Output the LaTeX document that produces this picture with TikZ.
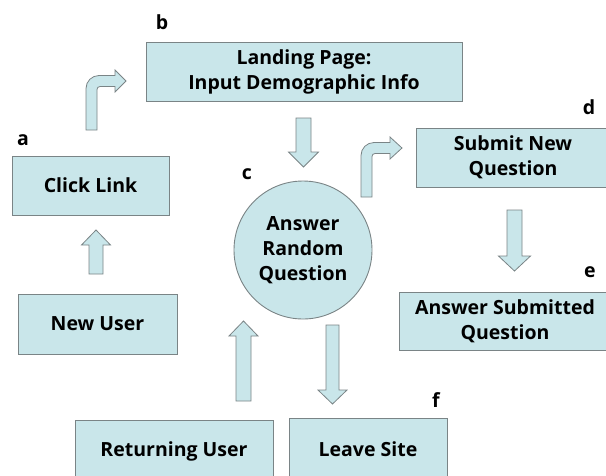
\documentclass[tikz,border=0pt]{standalone}
\usepackage{fontspec}
\setmainfont{Open Sans}
\definecolor{boxfill}{HTML}{C9E6EA}
\definecolor{boxline}{HTML}{7A8486}
\tikzset{
  box/.style={draw=boxline, fill=boxfill, line width=0.9pt, align=center,
    font=\bfseries\fontsize{19.5}{25}\selectfont, inner sep=0pt},
  circ/.style={box, circle},
  blk/.style={draw=boxline, fill=boxfill, line width=0.8pt, line join=miter},
  lbl/.style={font=\bfseries\fontsize{19.5}{20}\selectfont, inner sep=0pt}
}
\newcommand\blockarrowv[6]{\draw[blk] ({#1-#5},#2) -- ({#1-#5},#3) -- ({#1-#6},#3) -- (#1,#4) -- ({#1+#6},#3) -- ({#1+#5},#3) -- ({#1+#5},#2) -- cycle;}
\begin{document}
\begin{tikzpicture}[x=1pt,y=-1pt]
\useasboundingbox (0,0) rectangle (606,475);
\clip (0,0) rectangle (606,475);
\fill[white] (0,0) rectangle (606,475);

% boxes
\node[box, minimum width=157pt, minimum height=59pt] (a) at (90.5,185.5) {Click Link};
\node[box, minimum width=316pt, minimum height=59pt] (b) at (304,71.5) {Landing Page:\\Input Demographic Info};
\node[circ, minimum size=138pt] (c) at (303,250) {Answer\\Random\\Question};
\node[box, minimum width=194pt, minimum height=59pt] (d) at (513,157.5) {Submit New\\Question};
\node[box, minimum width=212pt, minimum height=58pt] (e) at (505,321) {Answer Submitted\\Question};
\node[box, minimum width=198pt, minimum height=62pt] (r) at (174,451) {Returning User};
\node[box, minimum width=158pt, minimum height=62pt] (f) at (368,449) {Leave Site};
\node[box, minimum width=159pt, minimum height=60pt] (n) at (97.5,324) {New User};

% labels
\node[lbl] (la) at (23,140) {a};
\node[lbl] (lb) at (162,22) {b};
\node[lbl] (lc) at (247,174) {c};
\node[lbl] (ld) at (589,107) {d};
\node[lbl] (le) at (590,272) {e};
\node[lbl] (lf) at (436,400) {f};

% straight block arrows
\blockarrowv{96}{274}{245}{230}{7}{14.5}
\blockarrowv{243.5}{401}{336}{321}{7.5}{14.5}
\blockarrowv{303.5}{118}{152}{167}{7.5}{15}
\blockarrowv{514.5}{210}{256}{271}{7.5}{16}
\blockarrowv{332.5}{325}{390}{404}{6.5}{14.5}

% bent block arrows
\draw[blk] (86,130) -- (86,88.5) .. controls (86,81.3) and (91.8,75.5) .. (99,75.5)
  -- (115,75.5) -- (115,70) -- (126,81) -- (115,92) -- (115,86.5) -- (100,86.5)
  .. controls (98.3,86.5) and (97,87.8) .. (97,89.5) -- (97,130) -- cycle;
\draw[blk] (361,197) -- (361,155.5) .. controls (361,148.3) and (366.8,142.5) .. (374,142.5)
  -- (390,142.5) -- (390,137) -- (402,148) -- (390,159) -- (390,153.5) -- (375,153.5)
  .. controls (373.3,153.5) and (372,154.8) .. (372,156.5) -- (372,197) -- cycle;
\end{tikzpicture}
\end{document}
